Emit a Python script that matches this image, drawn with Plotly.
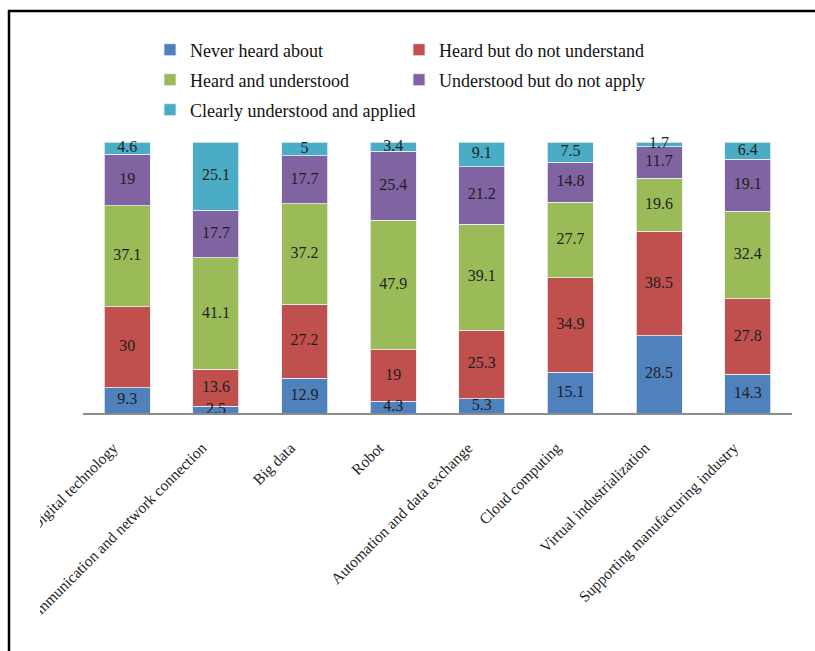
import numpy as np
import plotly.graph_objects as go

categories = ["Digital technology", "Communication and network connection", "Big data", "Robot",
              "Automation and data exchange", "Cloud computing", "Virtual industrialization",
              "Supporting manufacturing industry"]
never_heard = [9.3, 2.5, 12.9, 4.3, 5.3, 15.1, 28.5, 14.3]
heard_not_understand = [30, 13.6, 27.2, 19, 25.3, 34.9, 38.5, 27.8]
heard_understood = [37.1, 41.1, 37.2, 47.9, 39.1, 27.7, 19.6, 32.4]
understood_not_apply = [19, 17.7, 17.7, 25.4, 21.2, 14.8, 11.7, 19.1]
clearly_applied = [4.6, 25.1, 5, 3.4, 9.1, 7.5, 1.7, 6.4]

series = [
    ("Never heard about", never_heard, "#4F81BD", "legend"),
    ("Heard but do not understand", heard_not_understand, "#C0504D", "legend"),
    ("Heard and understood", heard_understood, "#9BBB59", "legend2"),
    ("Understood but do not apply", understood_not_apply, "#8064A2", "legend2"),
    ("Clearly understood and applied", clearly_applied, "#4BACC6", "legend3"),
]

W, H = 815, 651
L, R, T, B = 83, 23, 142, 238
PW, PH = W - L - R, H - T - B
SERIF = "Liberation Serif"


def px_x(px):
    return (px - L) / PW


def px_y(py):
    return (H - B - py) / PH


fig = go.Figure()
base = np.zeros(len(categories))
label_x, label_y, label_t = [], [], []
for name, vals, color, lg in series:
    v = np.array(vals, dtype=float)
    fig.add_trace(go.Bar(
        x=categories, y=vals, name=name, legend=lg,
        marker=dict(color=color, line=dict(color="rgba(235,240,248,0.8)", width=1)),
        hoverinfo="skip",
    ))
    mids = base + v / 2
    label_x += categories
    label_y += list(mids)
    label_t += [f"{x:g}" for x in vals]
    base = base + v

fig.add_trace(go.Scatter(
    x=label_x, y=label_y, text=label_t, mode="text", showlegend=False,
    textposition="middle center", cliponaxis=False, hoverinfo="skip",
    textfont=dict(family=SERIF, size=16, color="#1e1e1e"),
))

legend_common = dict(orientation="h", xanchor="left", yanchor="middle",
                     font=dict(family=SERIF, size=18, color="#111"),
                     entrywidthmode="pixels", itemwidth=30,
                     bgcolor="rgba(0,0,0,0)", traceorder="normal")

fig.update_layout(
    width=W, height=H,
    font=dict(family=SERIF, color="#222"),
    margin=dict(l=L, r=R, t=T, b=B, autoexpand=False),
    paper_bgcolor="white", plot_bgcolor="white",
    barmode="stack", bargap=0.48,
    showlegend=True,
    legend=dict(x=px_x(150), y=px_y(50), entrywidth=204, **legend_common),
    legend2=dict(x=px_x(150), y=px_y(80), entrywidth=204, **legend_common),
    legend3=dict(x=px_x(150), y=px_y(110), entrywidth=300, **legend_common),
    xaxis=dict(showline=True, linecolor="#8c8c8c", linewidth=1.5, ticks="",
               tickangle=-45, tickfont=dict(family=SERIF, size=15.5, color="#222"),
               ticklabelstandoff=18, ticklabelshift=-14,
               showgrid=False),
    yaxis=dict(range=[0, 100], visible=False, showgrid=False),
    shapes=[
        dict(type="rect", xref="paper", yref="paper", layer="above",
             x0=px_x(11), x1=px_x(40), y0=px_y(418), y1=px_y(651),
             fillcolor="white", line=dict(width=0)),
        dict(type="line", xref="paper", yref="paper", x0=px_x(8), x1=px_x(815), y0=px_y(11), y1=px_y(11),
             line=dict(color="black", width=2.5)),
        dict(type="line", xref="paper", yref="paper", x0=px_x(9), x1=px_x(9), y0=px_y(10), y1=px_y(651),
             line=dict(color="black", width=2.5)),
    ],
)

fig.write_html("out.html")
